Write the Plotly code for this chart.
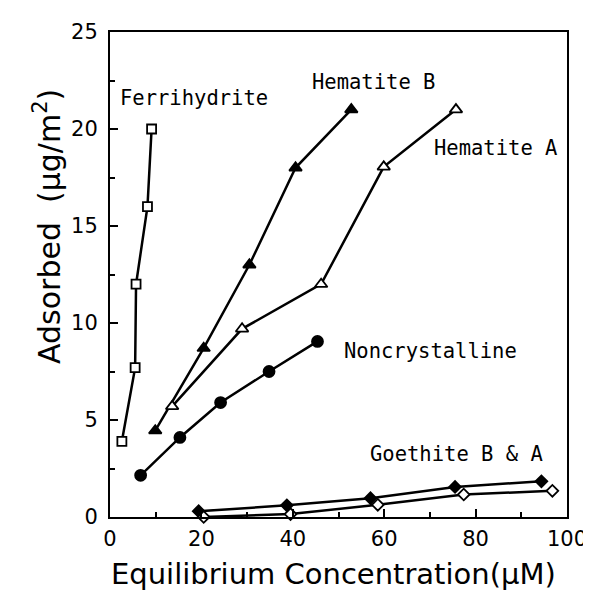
import plotly.graph_objects as go

# Data
ferri_x = [2.6, 5.5, 5.7, 8.2, 9.1]
ferri_y = [3.9, 7.7, 12.0, 16.0, 20.0]

hemB_x = [9.9, 20.5, 30.5, 40.6, 52.8]
hemB_y = [4.45, 8.7, 13.0, 18.0, 21.0]

hemA_x = [13.6, 28.9, 46.2, 59.9, 75.7]
hemA_y = [5.7, 9.7, 12.0, 18.05, 21.0]

noncr_x = [6.7, 15.3, 24.2, 34.8, 45.4]
noncr_y = [2.15, 4.1, 5.9, 7.5, 9.05]

goeB_x = [19.4, 38.7, 57.0, 75.5, 94.4]
goeB_y = [0.3, 0.6, 0.97, 1.55, 1.84]

goeA_x = [20.5, 39.5, 58.6, 77.4, 96.8]
goeA_y = [0.0, 0.15, 0.63, 1.16, 1.35]

x_ticks = [0, 20, 40, 60, 80, 100]
y_ticks = [0, 5, 10, 15, 20, 25]

FONT = "DejaVu Sans"
MONO = "DejaVu Sans Mono"
LW = 2.5

fig = go.Figure()

def add(x, y, symbol, size, fill, name):
    fig.add_trace(go.Scatter(
        x=x, y=y, mode="lines+markers", name=name,
        line=dict(color="black", width=LW),
        marker=dict(symbol=symbol, size=size, color=fill,
                    line=dict(color="black", width=1.8)),
        cliponaxis=False, showlegend=False))

add(ferri_x, ferri_y, "square", 9, "white", "Ferrihydrite")
add(hemB_x, hemB_y, "triangle-up", 11, "black", "Hematite B")
add(hemA_x, hemA_y, "triangle-up", 11, "white", "Hematite A")
add(noncr_x, noncr_y, "circle", 11, "black", "Noncrystalline")
add(goeB_x, goeB_y, "diamond", 9, "black", "Goethite B")
add(goeA_x, goeA_y, "diamond", 9, "white", "Goethite A")

labels = [
    ("Ferrihydrite", 1.7, 21.6),
    ("Hematite B", 43.8, 22.4),
    ("Hematite A", 70.4, 19.0),
    ("Noncrystalline", 50.8, 8.55),
    ("Goethite B &amp; A", 56.4, 3.25),
]
for text, x, y in labels:
    fig.add_annotation(x=x, y=y, text=text, showarrow=False, xanchor="left",
                       yanchor="middle", font=dict(family=MONO, size=20.5, color="black"))

fig.add_annotation(xref="paper", yref="paper", x=-0.138, y=0.60,
                   text="Adsorbed  (µg/m<sup>2</sup>)",
                   textangle=-90, showarrow=False, xanchor="center", yanchor="middle",
                   font=dict(family=FONT, size=30, color="black"))
fig.add_annotation(xref="paper", yref="paper", x=0.49, y=-0.118,
                   text="Equilibrium Concentration(µM)",
                   showarrow=False, xanchor="center", yanchor="middle",
                   font=dict(family=FONT, size=29, color="black"))

fig.update_xaxes(
    range=[0, 100], tickvals=x_ticks, ticktext=[str(v) for v in x_ticks],
    showline=True, linecolor="black", linewidth=2, mirror=True,
    ticks="inside", ticklen=8, tickwidth=1.5, tickcolor="black",
    minor=dict(ticks="inside", dtick=10, ticklen=5, tickwidth=1.5, tickcolor="black"),
    showgrid=False, zeroline=False, ticklabelstandoff=2,
    tickfont=dict(family=FONT, size=21, color="black"),
)
fig.update_yaxes(
    range=[0, 25], tickvals=y_ticks, ticktext=[str(v) for v in y_ticks],
    showline=True, linecolor="black", linewidth=2, mirror=True,
    ticks="inside", ticklen=8, tickwidth=1.5, tickcolor="black",
    minor=dict(ticks="inside", dtick=2.5, ticklen=5, tickwidth=1.5, tickcolor="black"),
    showgrid=False, zeroline=False, ticklabelstandoff=6,
    tickfont=dict(family=FONT, size=21, color="black"),
)

fig.update_layout(
    width=591, height=593,
    margin=dict(l=102, r=26, t=20, b=84),
    paper_bgcolor="white", plot_bgcolor="white",
)

fig.write_html("out.html")
